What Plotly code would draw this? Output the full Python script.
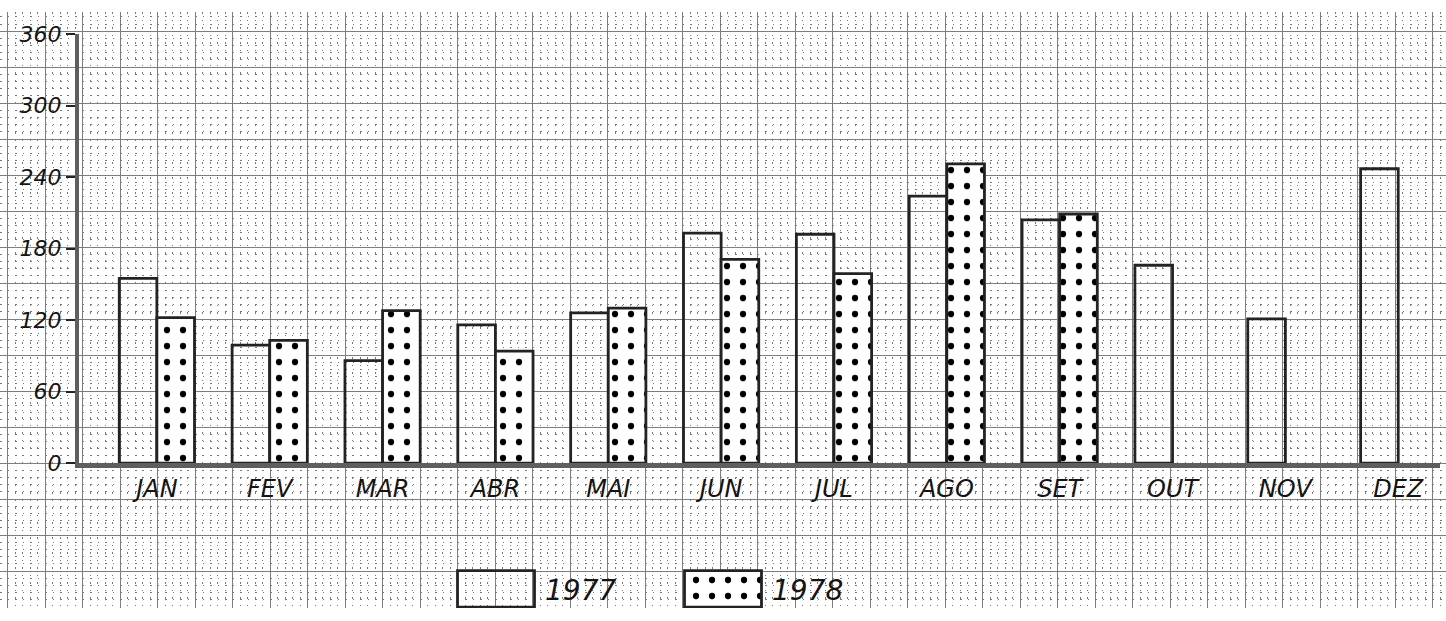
import plotly.graph_objects as go

# Monthly values, 1977 vs 1978
months = ["JAN", "FEV", "MAR", "ABR", "MAI", "JUN", "JUL", "AGO", "SET", "OUT", "NOV", "DEZ"]
v1977 = [155, 99, 86, 116, 126, 193, 192, 224, 204, 166, 121, 247]
v1978 = [122, 103, 128, 94, 130, 171, 159, 251, 209, None, None, None]
y_ticks = [0, 60, 120, 180, 240, 300, 360]
series_names = ["1977", "1978"]

W, H = 1446, 621
INK = "rgb(35,35,35)"
AXIS = "rgb(95,95,95)"
FONT = dict(family="DejaVu Sans", color="rgb(20,20,20)", style="italic")
DOTS = dict(shape=".", size=16, solidity=0.12, fgcolor="black", bgcolor="white", fillmode="replace")

fig = go.Figure()

# main bars
fig.add_trace(go.Bar(
    x=months, y=v1977, name=series_names[0], xaxis="x2", yaxis="y2",
    marker=dict(color="rgba(0,0,0,0)", line=dict(color=INK, width=2.8)),
    showlegend=False,
))
fig.add_trace(go.Bar(
    x=months, y=v1978, name=series_names[1], xaxis="x2", yaxis="y2",
    marker=dict(color="white", line=dict(color=INK, width=2.8), pattern=DOTS),
    showlegend=False,
))

# hand-drawn style key boxes at the bottom (drawn on the paper-grid axes, pixel units)
key_x = [496, 723]
key_w = 77
key_top, key_h = 582, 38
fig.add_trace(go.Bar(
    x=[key_x[0]], y=[key_h], base=[key_top], width=[key_w], xaxis="x", yaxis="y",
    marker=dict(color="rgba(0,0,0,0)", line=dict(color=INK, width=2.8)),
    showlegend=False, hoverinfo="skip",
))
fig.add_trace(go.Bar(
    x=[key_x[1]], y=[key_h], base=[key_top], width=[key_w], xaxis="x", yaxis="y",
    marker=dict(color="white", line=dict(color=INK, width=2.8), pattern=DOTS),
    showlegend=False, hoverinfo="skip",
))
for name, kx in zip(series_names, key_x):
    fig.add_annotation(x=kx + key_w / 2 + 8, y=key_top + key_h / 2 + 2, xref="x", yref="y",
                       text=name, showarrow=False, xanchor="left", yanchor="middle",
                       font=dict(size=28, **FONT))

grid_major = "rgb(125,125,125)"
grid_minor = "rgb(120,120,120)"

fig.update_layout(
    width=W, height=H,
    margin=dict(l=0, r=0, t=0, b=0),
    paper_bgcolor="white",
    plot_bgcolor="rgba(0,0,0,0)",
    barmode="group", bargap=1 / 3, bargroupgap=0,
    # graph paper covering the whole page
    xaxis=dict(domain=[0, 1], range=[0, W], showticklabels=False, ticks="",
               zeroline=False, showline=False,
               showgrid=True, gridcolor=grid_major, gridwidth=1, tick0=7.5, dtick=37.5,
               minor=dict(showgrid=True, tick0=0, dtick=7.5, gridcolor=grid_minor,
                          gridwidth=1.2, griddash="1.5px,6px")),
    yaxis=dict(domain=[0, 1], range=[H, 0], showticklabels=False, ticks="",
               zeroline=False, showline=False,
               showgrid=True, gridcolor=grid_major, gridwidth=1, tick0=20, dtick=37.5,
               minor=dict(showgrid=True, tick0=5, dtick=7.5, gridcolor=grid_minor,
                          gridwidth=1.2, griddash="1.5px,6px")),
    # chart axes
    xaxis2=dict(domain=[79 / W, 1440 / W], anchor="y2", range=[-0.69, 11.37],
                showgrid=False, zeroline=False, showline=True, linecolor=AXIS, linewidth=5,
                ticks="", tickfont=dict(size=24, **FONT)),
    yaxis2=dict(domain=[151 / H, 598 / H], anchor="x2", range=[0, 360],
                showgrid=False, zeroline=False, showline=True, linecolor=AXIS, linewidth=4,
                ticks="outside", ticklen=9, tickwidth=2, tickcolor=INK,
                tickvals=y_ticks, ticktext=[str(t) for t in y_ticks],
                tickfont=dict(size=22, **FONT)),
)

fig.write_html("out.html")
